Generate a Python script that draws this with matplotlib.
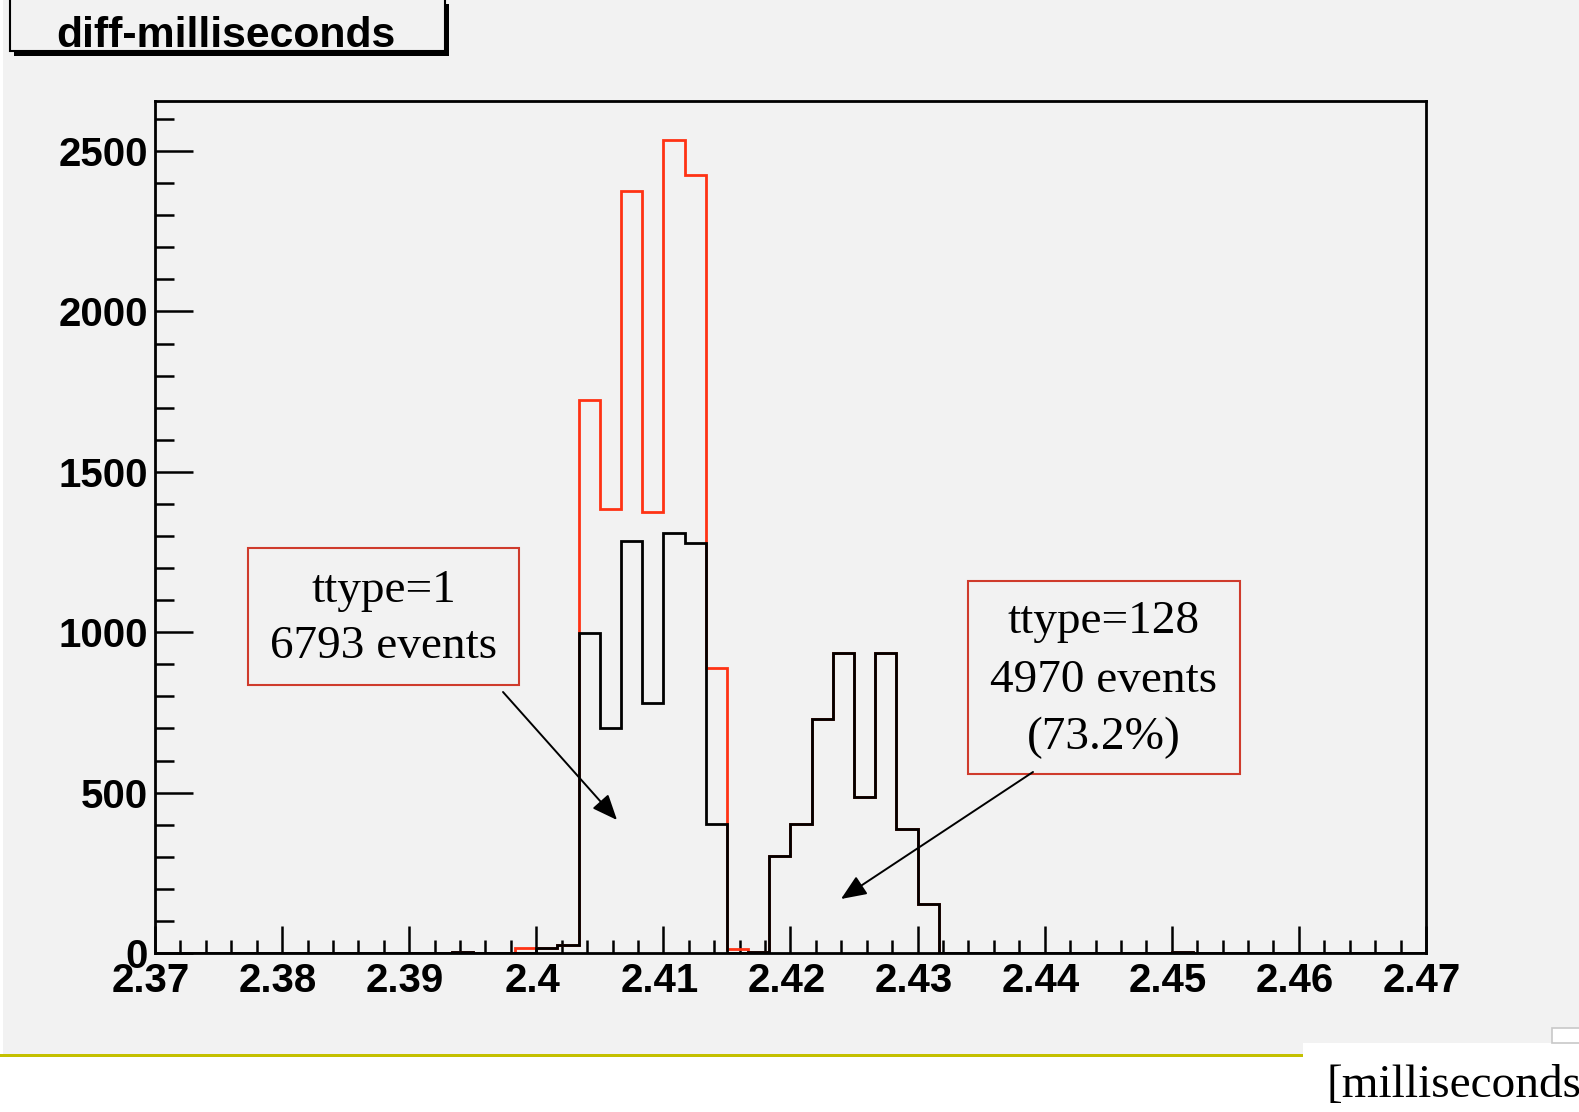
import numpy as np
import matplotlib
matplotlib.use("Agg")
import matplotlib.pyplot as plt
from matplotlib.patches import Rectangle, FancyArrowPatch
from matplotlib.ticker import FixedLocator, FixedFormatter, MultipleLocator
from matplotlib.transforms import ScaledTranslation

# histogram binning: 60 bins between 2.37 and 2.47 ms
x_lo, x_hi, n_bins = 2.37, 2.47, 60

# bin contents (bin index -> count)
red_bins = [14, 17, 18, 19, 20, 21, 22, 23, 24, 25, 26, 27, 28,
            29, 30, 31, 32, 33, 34, 35, 36, 48]
red_counts = [3, 16, 16, 26, 1725, 1384, 2376, 1376, 2534, 2425, 887, 12, 4,
              303, 403, 730, 936, 485, 936, 386, 153, 3]

black_bins = [14, 18, 19, 20, 21, 22, 23, 24, 25, 26, 28,
              29, 30, 31, 32, 33, 34, 35, 36, 48]
black_counts = [3, 16, 26, 997, 702, 1285, 778, 1309, 1278, 403, 4,
                303, 403, 730, 936, 485, 936, 386, 153, 3]

x_ticks = [2.37, 2.38, 2.39, 2.40, 2.41, 2.42, 2.43, 2.44, 2.45, 2.46, 2.47]
x_labels = ['2.37', '2.38', '2.39', '2.4', '2.41', '2.42', '2.43', '2.44',
            '2.45', '2.46', '2.47']
y_ticks = [0, 500, 1000, 1500, 2000, 2500]
y_labels = ['0', '500', '1000', '1500', '2000', '2500']

title = 'diff-milliseconds'
box1_lines = ['ttype=1', '6793 events']
box2_lines = ['ttype=128', '4970 events', '(73.2%)']
unit_text = '[milliseconds'

# ---------------------------------------------------------------
W, H = 1579, 1112
GRAY = '#f2f2f2'
RED = '#ff3314'
BOXRED = '#cf3b2c'


def fx(px):
    return px / W


def fy(py):
    return 1 - py / H


def fig_rect(x0, y0, x1, y1, **kw):
    r = Rectangle((fx(x0), fy(y1)), (x1 - x0) / W, (y1 - y0) / H,
                  transform=fig.transFigure, **kw)
    fig.add_artist(r)
    return r


edges = np.linspace(x_lo, x_hi, n_bins + 1)
red = np.zeros(n_bins)
red[red_bins] = red_counts
black = np.zeros(n_bins)
black[black_bins] = black_counts

fig = plt.figure(figsize=(W / 100, H / 100), dpi=100, facecolor='white')

# page background pieces
fig_rect(3, 0, W, 1054, facecolor=GRAY, edgecolor='none', zorder=-10)
fig_rect(1303, 1043, W, H, facecolor='white', edgecolor='none', zorder=-9)
fig_rect(0, 1054, 1303, 1057, facecolor='#c4c000', edgecolor='none', zorder=-9)
fig_rect(1552, 1028, W + 5, 1043, facecolor='white', edgecolor='#c8c8c8',
         linewidth=1.2, zorder=-8)

ax = fig.add_axes([fx(155), fy(953), fx(1426) - fx(155), fy(101) - fy(953)])
ax.set_facecolor(GRAY)

ax.stairs(red, edges, color=RED, linewidth=2.0, zorder=2)
ax.stairs(black, edges, color='black', linewidth=2.0, zorder=3)

ax.set_xlim(x_lo, x_hi)
ax.set_ylim(0, 2656)

ax.xaxis.set_major_locator(FixedLocator(x_ticks))
ax.xaxis.set_major_formatter(FixedFormatter(x_labels))
ax.xaxis.set_minor_locator(MultipleLocator(0.002))
ax.yaxis.set_major_locator(FixedLocator(y_ticks))
ax.yaxis.set_major_formatter(FixedFormatter(y_labels))
ax.yaxis.set_minor_locator(MultipleLocator(100))

ax.tick_params(axis='both', which='both', direction='in', top=False,
               right=False, width=1.8, color='black')
ax.tick_params(axis='x', which='major', length=19.5, pad=6.5)
ax.tick_params(axis='x', which='minor', length=9.5)
ax.tick_params(axis='y', which='major', length=27, pad=5)
ax.tick_params(axis='y', which='minor', length=13.5)
shift = ScaledTranslation(-4 / 100, 0, fig.dpi_scale_trans)
for lab in ax.get_xticklabels():
    lab.set_transform(lab.get_transform() + shift)
for lab in ax.get_xticklabels() + ax.get_yticklabels():
    lab.set_fontfamily('Liberation Sans')
    lab.set_fontweight('bold')
    lab.set_fontsize(29)
for sp in ax.spines.values():
    sp.set_linewidth(2.0)
    sp.set_color('black')

# title box with shadow
fig_rect(14, 4, 449, 56, facecolor='black', edgecolor='none', zorder=4)
fig_rect(10, -10, 445, 51, facecolor=GRAY, edgecolor='black', linewidth=1.5,
         zorder=5)
fig.text(fx(226), fy(46.7), title, ha='center', va='baseline',
         fontfamily='Liberation Sans', fontweight='bold', fontsize=30.8, zorder=6)

# annotation boxes
serif = dict(fontfamily='Liberation Serif', fontsize=34, ha='center',
             va='baseline', zorder=6)
fig_rect(248, 548, 519, 685, facecolor='none', edgecolor=BOXRED,
         linewidth=1.5, zorder=5)
for line, base in zip(box1_lines, [601.7, 658.3]):
    fig.text(fx(383.5), fy(base), line, **serif)

fig_rect(968, 581, 1240, 774, facecolor='none', edgecolor=BOXRED,
         linewidth=1.5, zorder=5)
for line, base in zip(box2_lines, [633.3, 691.7, 749.3]):
    fig.text(fx(1104), fy(base), line, **serif)

for start, tip in [((503, 692), (617, 820)), ((1033, 772), (841, 899))]:
    arr = FancyArrowPatch((fx(start[0]), fy(start[1])), (fx(tip[0]), fy(tip[1])),
                          transform=fig.transFigure,
                          arrowstyle='-|>,head_length=15.5,head_width=6.5',
                          mutation_scale=1, color='black', linewidth=1.4,
                          shrinkA=0, shrinkB=0, zorder=6)
    fig.add_artist(arr)

fig.text(fx(1326), fy(1097), unit_text, ha='left', va='baseline',
         fontfamily='Liberation Serif', fontsize=34)

fig.savefig('out.png', dpi=100, facecolor=fig.get_facecolor())
